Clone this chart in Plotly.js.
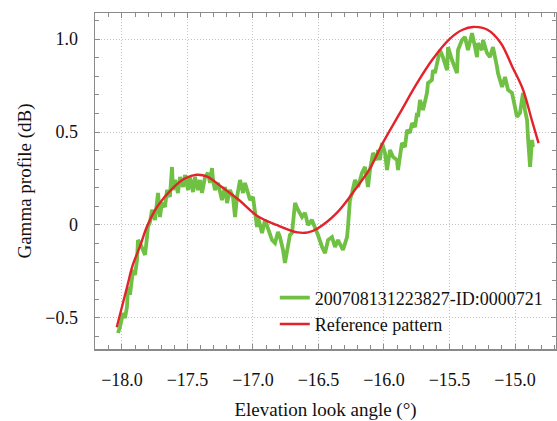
<!DOCTYPE html>
<html>
<head>
<meta charset="utf-8">
<script src="https://cdn.plot.ly/plotly-3.0.1.min.js"></script>
<style>html,body{margin:0;padding:0;background:#fff;}#chart{width:557px;height:421px;}</style>
</head>
<body>
<div id="chart"></div>
<script>
// Measured series: elevation look angle (deg) and gamma profile (dB)
const measuredX = [
-18.031,-18.015,-17.992,-17.977,-17.962,-17.954,-17.939,-17.924,-17.916,-17.901,
-17.885,-17.878,-17.863,-17.840,-17.824,-17.809,-17.802,-17.786,-17.771,-17.748,
-17.733,-17.725,-17.710,-17.695,-17.672,-17.656,-17.634,-17.618,-17.611,-17.595,
-17.573,-17.557,-17.534,-17.519,-17.496,-17.481,-17.458,-17.443,-17.420,-17.405,
-17.389,-17.366,-17.344,-17.328,-17.313,-17.305,-17.290,-17.267,-17.237,-17.214,
-17.198,-17.176,-17.153,-17.137,-17.122,-17.099,-17.076,-17.061,-17.038,-17.023,
-17.000,-16.985,-16.969,-16.962,-16.931,-16.908,-16.885,-16.855,-16.832,-16.809,
-16.794,-16.771,-16.756,-16.733,-16.718,-16.702,-16.679,-16.656,-16.626,-16.603,
-16.580,-16.550,-16.527,-16.504,-16.473,-16.450,-16.427,-16.397,-16.374,-16.351,
-16.313,-16.282,-16.275,-16.260,-16.244,-16.221,-16.198,-16.168,-16.145,-16.122,
-16.107,-16.084,-16.053,-16.046,-16.031,-16.015,-15.992,-15.977,-15.954,-15.931,
-15.901,-15.893,-15.863,-15.840,-15.824,-15.802,-15.786,-15.763,-15.748,-15.740,
-15.725,-15.702,-15.672,-15.664,-15.634,-15.626,-15.611,-15.595,-15.573,-15.550,
-15.519,-15.511,-15.481,-15.443,-15.435,-15.405,-15.382,-15.359,-15.328,-15.305,
-15.290,-15.282,-15.252,-15.244,-15.214,-15.191,-15.168,-15.137,-15.130,-15.099,
-15.076,-15.053,-15.023,-15.000,-14.985,-14.962,-14.939,-14.924,-14.908,-14.901,
-14.885,-14.870,-14.863
];
const measuredY = [
-0.581,-0.548,-0.473,-0.500,-0.441,-0.333,-0.376,-0.296,-0.242,-0.269,
-0.188,-0.081,-0.097,-0.134,-0.161,-0.065,-0.011,0.016,0.081,0.027,
0.134,0.172,0.043,0.118,0.097,0.188,0.151,0.312,0.188,0.242,
0.172,0.258,0.204,0.269,0.188,0.258,0.177,0.258,0.188,0.242,
0.172,0.258,0.280,0.226,0.306,0.242,0.188,0.226,0.134,0.204,
0.118,0.188,0.151,0.043,0.151,0.242,0.172,0.226,0.172,0.134,
0.151,0.081,-0.011,0.043,-0.043,0.027,-0.027,-0.081,-0.097,-0.038,
-0.065,-0.134,-0.204,-0.118,-0.054,-0.043,0.118,0.081,0.043,0.065,
0.000,0.027,-0.011,-0.054,-0.118,-0.151,-0.081,-0.065,-0.118,-0.081,
-0.134,-0.065,-0.011,0.134,0.172,0.242,0.204,0.280,0.312,0.204,
0.296,0.387,0.349,0.403,0.349,0.441,0.387,0.296,0.403,0.366,
0.349,0.296,0.441,0.419,0.511,0.495,0.548,0.527,0.602,0.581,
0.672,0.618,0.710,0.763,0.780,0.833,0.817,0.876,0.941,0.903,
0.833,0.957,0.887,0.817,0.941,0.995,1.011,0.941,1.032,0.957,
0.903,0.978,0.941,0.995,0.925,0.903,0.957,0.849,0.817,0.742,
0.796,0.726,0.710,0.634,0.581,0.602,0.710,0.618,0.565,0.473,
0.312,0.457,0.419
];
// Reference pattern
const refX = [-18.04,-18.00,-17.96,-17.92,-17.86,-17.81,-17.73,-17.61,-17.52,-17.43,
-17.35,-17.23,-17.10,-16.97,-16.82,-16.66,-16.58,-16.51,-16.36,-16.21,
-16.11,-16.01,-15.88,-15.75,-15.63,-15.50,-15.40,-15.32,-15.21,-15.11,
-15.02,-14.94,-14.87,-14.82];
const refY = [-0.55,-0.44,-0.33,-0.22,-0.11,-0.01,0.10,0.20,0.25,0.27,
0.26,0.20,0.13,0.05,0.00,-0.04,-0.04,-0.02,0.065,0.20,
0.30,0.44,0.60,0.76,0.89,1.00,1.05,1.065,1.05,0.98,
0.85,0.73,0.56,0.44];
const seriesNames = ["200708131223827-ID:0000721", "Reference pattern"];
const xTickVals = [-18.0,-17.5,-17.0,-16.5,-16.0,-15.5,-15.0];
const xTickText = ["\u221218.0","\u221217.5","\u221217.0","\u221216.5","\u221216.0","\u221215.5","\u221215.0"];
const yTickVals = [-0.5,0,0.5,1.0];
const yTickText = ["\u22120.5","0","0.5","1.0"];

const FONT = "Liberation Serif, Times New Roman, serif";
const traces = [
  {x: measuredX, y: measuredY, type:'scatter', mode:'lines', name: seriesNames[0],
   line:{color:'#6fc043', width:3.8}},
  {x: refX, y: refY, type:'scatter', mode:'lines', name: seriesNames[1],
   line:{color:'#e3222b', width:2.4, shape:'spline', smoothing:1.0}}
];
const axisCommon = {
  showline:true, linecolor:'#8a8a8a', linewidth:1.5, mirror:'ticks',
  ticks:'inside', ticklen:5, tickcolor:'#8a8a8a', tickwidth:1,
  showgrid:true, gridcolor:'#c2c2c2', griddash:'1px,2px', gridwidth:1,
  zeroline:false, tickfont:{family:FONT, size:18, color:'#111'},
  minor:{ticks:'inside', ticklen:4, tickcolor:'#8a8a8a', dtick:0.1, showgrid:false}
};
const layout = {
  width:557, height:421,
  margin:{l:95, r:1, t:13, b:72},
  paper_bgcolor:'#fff', plot_bgcolor:'#fff',
  showlegend:true,
  legend:{x:0.39, y:0.207, xanchor:'left', yanchor:'top', bgcolor:'rgba(0,0,0,0)',
    font:{family:FONT, size:18, color:'#111'}, tracegroupgap:0},
  xaxis: Object.assign({}, axisCommon, {
    range:[-18.206,-14.687], tickvals:xTickVals, ticktext:xTickText,
    ticklabelstandoff:14,
    minor:Object.assign({}, axisCommon.minor, {tick0:-18.0}),
    title:{text:'Elevation look angle (°)', font:{family:FONT, size:19, color:'#111'}, standoff:14}
  }),
  yaxis: Object.assign({}, axisCommon, {
    range:[-0.667,1.140], tickvals:yTickVals, ticktext:yTickText,
    ticklabelstandoff:12,
    minor:Object.assign({}, axisCommon.minor, {tick0:0}),
    title:{text:'Gamma profile (dB)', font:{family:FONT, size:19, color:'#111'}, standoff:8}
  })
};
Plotly.newPlot('chart', traces, layout, {displayModeBar:false, staticPlot:true});
</script>
</body>
</html>
